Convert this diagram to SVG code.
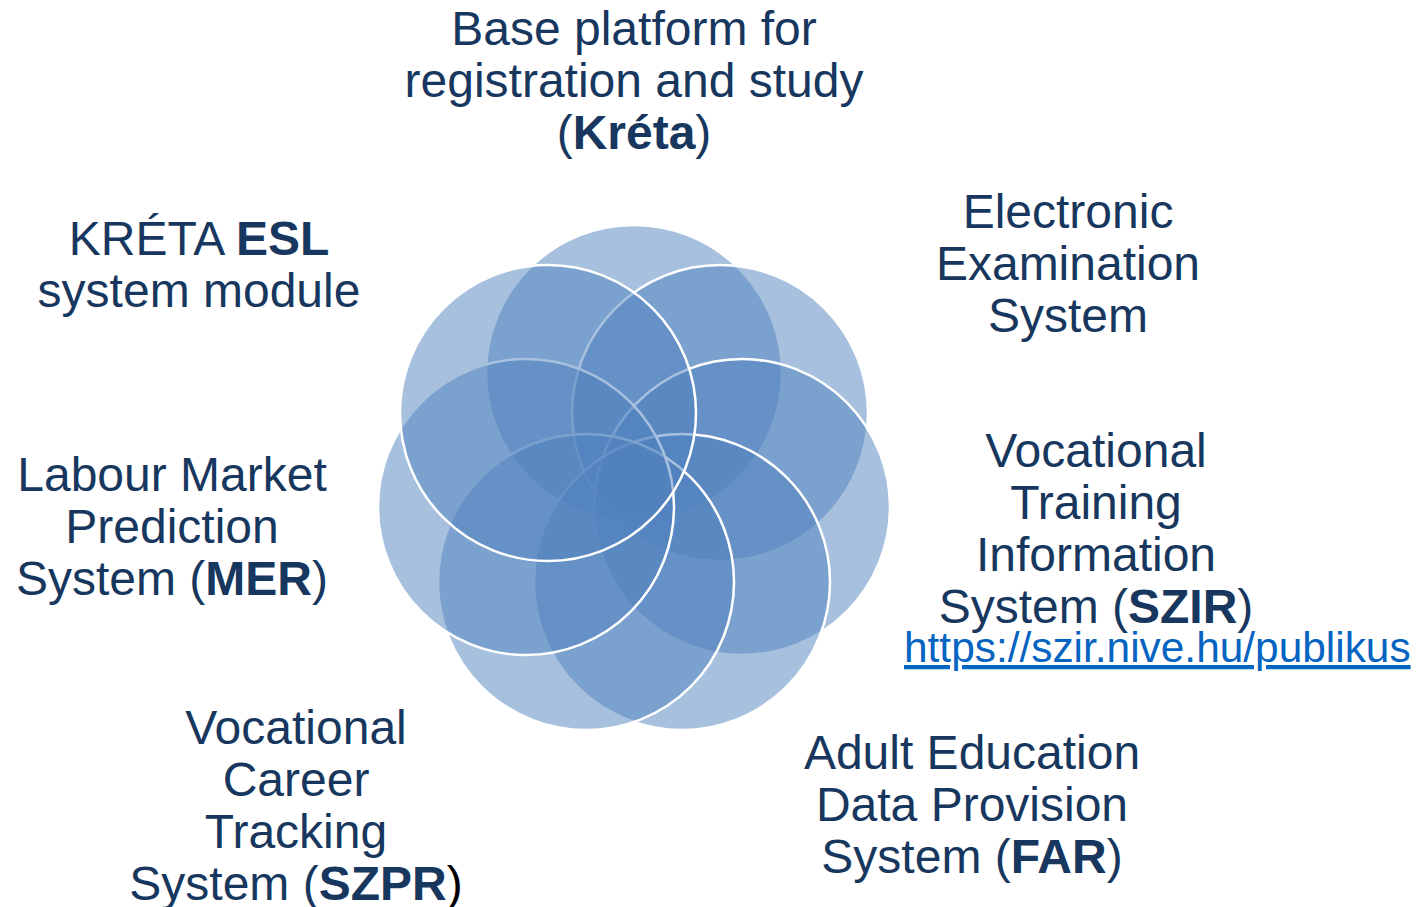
<svg xmlns="http://www.w3.org/2000/svg" width="1416" height="907" viewBox="0 0 1416 907">
<style>
.c{fill:#4f81bd;fill-opacity:0.5;stroke:#ffffff;stroke-width:2.5}
.t{font-family:"Liberation Sans",Arial,sans-serif;font-size:48px;fill:#17375e;text-anchor:middle}
.b{font-weight:bold}
.lnk{font-family:"Liberation Sans",Arial,sans-serif;font-size:42.4px;fill:#0563c1;text-decoration:underline}
</style>
<rect width="1416" height="907" fill="#ffffff"/>
<g id="circles">
<circle id="c1" class="c" cx="634" cy="373" r="148"/>
<circle id="c2" class="c" cx="720" cy="413" r="148"/>
<circle id="c3" class="c" cx="742" cy="507" r="148"/>
<circle id="c4" class="c" cx="682" cy="582" r="148"/>
<circle id="c5" class="c" cx="586" cy="582" r="148"/>
<circle id="c6" class="c" cx="526" cy="507" r="148"/>
<circle id="c7" class="c" cx="548" cy="413" r="148"/>
</g>
<g id="connectors"></g>
<g id="n-kreta">
<text class="t" x="634" y="45">Base platform for</text>
<text class="t" x="634" y="97">registration and study</text>
<text class="t" x="634" y="149">(<tspan class="b">Kréta</tspan>)</text>
</g>
<g id="n-exam">
<text class="t" x="1068" y="228">Electronic</text>
<text class="t" x="1068" y="280">Examination</text>
<text class="t" x="1068" y="332">System</text>
</g>
<g id="n-esl">
<text class="t" x="199" y="255">KRÉTA <tspan class="b">ESL</tspan></text>
<text class="t" x="199" y="307">system module</text>
</g>
<g id="n-szir">
<text class="t" x="1096" y="467">Vocational</text>
<text class="t" x="1096" y="519">Training</text>
<text class="t" x="1096" y="571">Information</text>
<text class="t" x="1096" y="623">System (<tspan class="b">SZIR</tspan>)</text>
<text class="lnk" x="904" y="662">https://szir.nive.hu/publikus</text>
</g>
<g id="n-mer">
<text class="t" x="172" y="491">Labour Market</text>
<text class="t" x="172" y="543">Prediction</text>
<text class="t" x="172" y="595">System (<tspan class="b">MER</tspan>)</text>
</g>
<g id="n-szpr">
<text class="t" x="296" y="744">Vocational</text>
<text class="t" x="296" y="796">Career</text>
<text class="t" x="296" y="848">Tracking</text>
<text class="t" x="296" y="900">System (<tspan class="b">SZPR</tspan><tspan fill="#000000">)</tspan></text>
</g>
<g id="n-far">
<text class="t" x="972" y="769">Adult Education</text>
<text class="t" x="972" y="821">Data Provision</text>
<text class="t" x="972" y="873">System (<tspan class="b">FAR</tspan>)</text>
</g>
</svg>
